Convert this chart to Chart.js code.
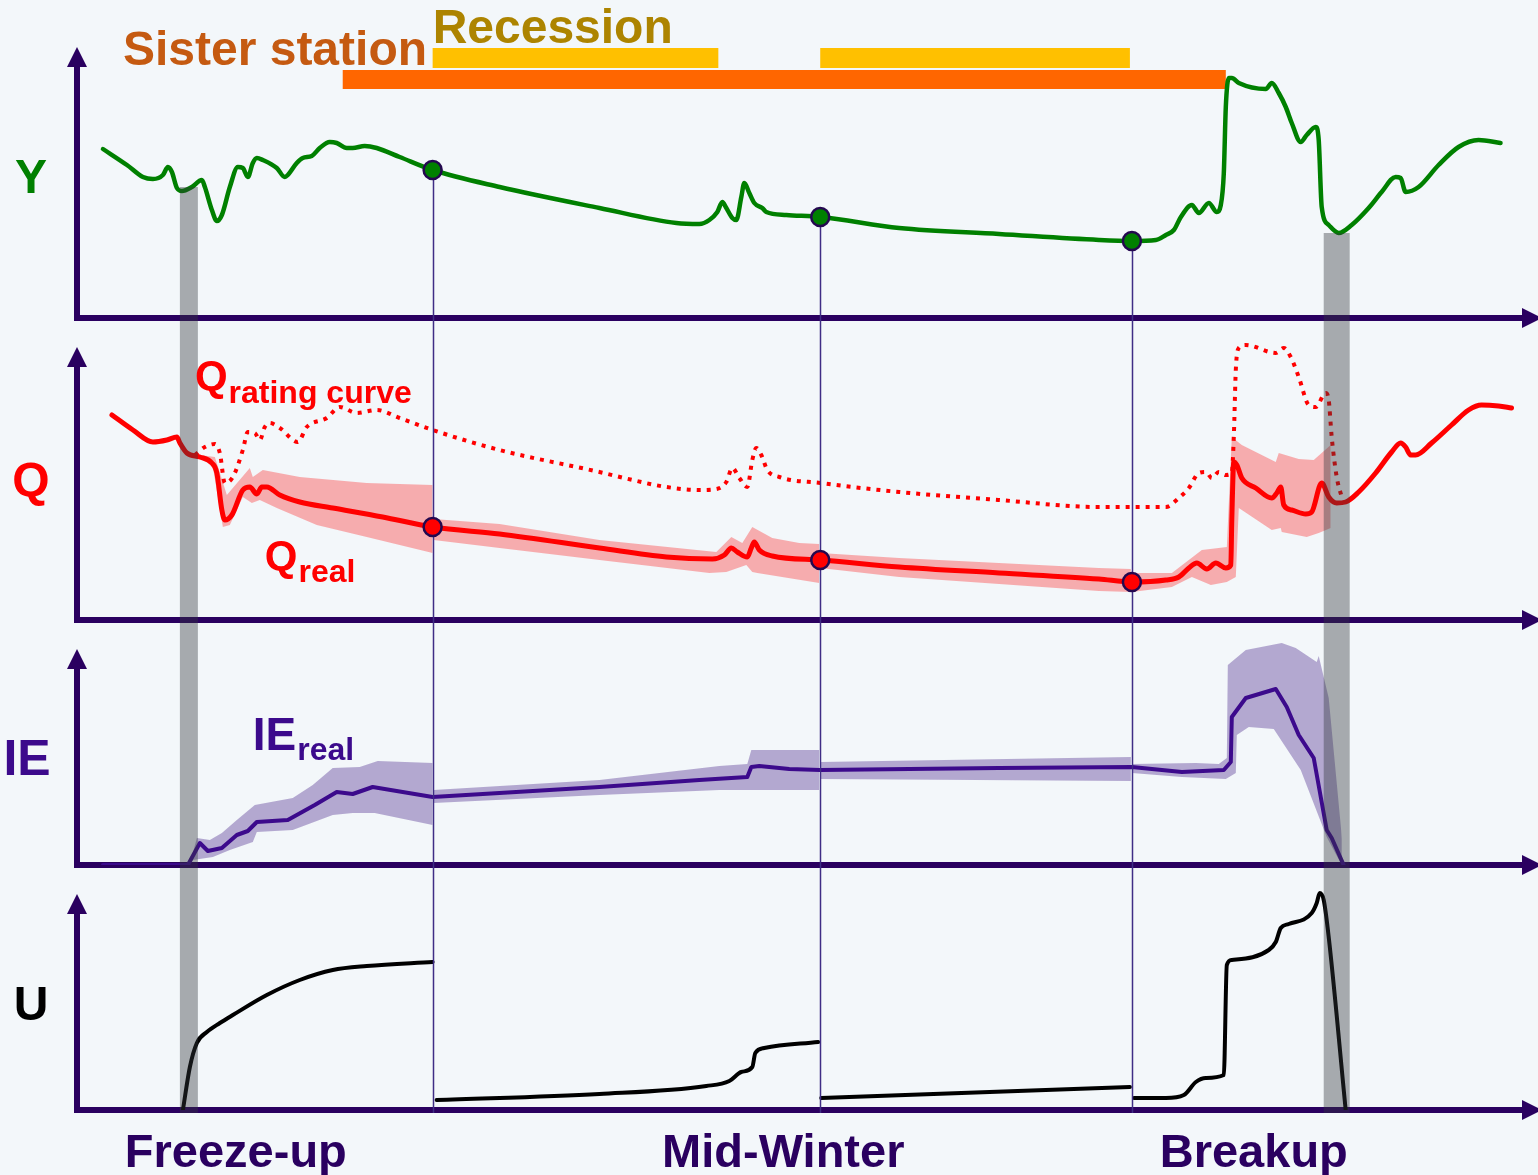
<!DOCTYPE html>
<html>
<head>
<meta charset="utf-8">
<script src="https://cdn.jsdelivr.net/npm/chart.js@4.4.1/dist/chart.umd.min.js"></script>
<style>
  html, body { margin: 0; padding: 0; background: #f3f7fa; }
  canvas { display: block; }
</style>
</head>
<body>
<canvas id="chart" width="1538" height="1175"></canvas>
<script>
// ---------------- data (x = days since start of season) ----------------

// Stage Y (m)
const stageSeries = [
  [2.6,1.69],[5.0,1.53],[6.6,1.41],[7.6,1.39],[8.6,1.43],[9.1,1.51],[9.5,1.46],[10.0,1.30],[10.5,1.27],
  [11.5,1.31],[12.5,1.38],[12.8,1.31],[13.5,1.08],[14.0,0.97],[14.5,1.03],[15.3,1.31],[16.1,1.51],[16.6,1.50],
  [17.1,1.41],[17.6,1.55],[18.0,1.60],[18.6,1.58],[20.0,1.50],[20.8,1.41],[21.1,1.43],[22.0,1.55],[22.6,1.60],
  [23.5,1.62],[24.3,1.70],[25.3,1.76],[26.0,1.75],[27.0,1.70],[27.6,1.70],[28.8,1.72],[30.0,1.70],[32.3,1.61],
  [35.6,1.48],[42.3,1.31],[52.3,1.10],[60.0,0.95],[62.3,0.94],[63.3,0.98],[64.1,1.06],[64.6,1.16],[65.0,1.10],
  [65.6,1.00],[66.0,0.98],[66.5,1.21],[66.8,1.35],[67.3,1.25],[67.8,1.15],[68.6,1.10],[69.0,1.06],[71.0,1.03],
  [74.4,1.01],[82.3,0.90],[92.3,0.84],[102.3,0.78],[105.6,0.77],[108.0,0.78],[109.0,0.83],[109.8,0.88],
  [110.5,1.01],[111.6,1.13],[112.3,1.05],[113.3,1.15],[114.1,1.06],[114.5,1.13],[114.8,1.45],[115.0,2.11],
  [115.3,2.40],[115.6,2.40],[116.3,2.35],[119.0,2.29],[119.6,2.35],[120.3,2.25],[121.0,2.11],[121.6,1.95],
  [122.5,1.76],[123.1,1.83],[124.0,1.91],[124.3,1.78],[124.6,1.11],[125.3,0.93],[126.3,0.85],[127.6,0.93],
  [129.3,1.10],[130.6,1.26],[132.0,1.41],[132.5,1.40],[133.0,1.26],[134.3,1.31],[136.3,1.53],[138.3,1.71],
  [140.3,1.78],[142.5,1.75]
];

// Discharge from the open-water rating curve (m3/s)
const ratingCurveQ = [
  [11.8,82.5],[12.8,86.5],[13.8,88.0],[14.3,83.5],[14.8,68.5],[15.6,71.5],[16.6,85.0],[17.1,94.0],[17.8,93.5],
  [18.3,90.0],[18.8,96.5],[19.3,98.5],[20.3,96.0],[22.1,89.0],[23.0,96.5],[25.0,101.0],[26.3,106.5],[28.0,103.5],
  [30.0,105.0],[32.3,101.0],[35.6,95.0],[42.3,85.0],[52.3,74.0],[55.6,70.0],[59.0,66.5],[62.3,65.0],[64.0,65.5],
  [65.0,69.0],[65.6,76.0],[66.3,71.0],[67.1,66.5],[67.6,80.0],[68.0,86.0],[68.5,82.5],[69.1,75.0],[70.3,71.5],
  [74.4,68.5],[82.3,64.0],[92.3,60.0],[102.3,56.5],[109.0,56.5],[110.3,61.0],[111.3,66.0],[112.3,73.5],
  [113.0,74.0],[113.6,71.0],[114.3,74.0],[115.0,72.5],[115.6,73.5],[115.8,91.5],[116.0,125.0],[116.3,136.0],
  [117.0,137.5],[120.0,133.5],[120.8,136.0],[121.5,131.5],[122.3,121.5],[123.3,107.5],[124.0,106.5],
  [125.0,113.5],[125.3,110.0],[125.6,91.5],[126.1,71.5],[126.6,61.5]
];

// Estimated real discharge (m3/s)
const realQ = [
  [3.5,102.5],[5.6,95.0],[7.6,89.0],[9.0,90.0],[10.0,91.5],[10.3,88.5],[11.0,83.5],[12.3,81.5],[13.5,78.5],
  [14.0,73.5],[14.5,55.0],[14.8,50.0],[15.5,52.5],[16.6,65.0],[17.3,66.5],[18.0,63.0],[18.5,66.5],[19.0,66.5],
  [20.3,62.5],[22.3,59.0],[25.6,56.0],[30.6,51.5],[35.6,46.5],[42.3,43.0],[52.3,36.0],[59.0,31.5],[63.6,30.5],
  [64.8,32.5],[65.5,36.0],[66.1,34.0],[67.1,31.5],[67.5,36.0],[67.8,39.0],[68.3,35.0],[69.6,32.0],[74.4,30.0],
  [82.3,26.5],[92.3,23.5],[102.3,20.5],[105.6,19.0],[109.0,20.0],[110.3,21.5],[111.3,26.0],[112.1,28.5],
  [113.1,25.5],[114.0,28.5],[115.0,26.0],[115.5,27.5],[115.6,50.0],[115.8,79.0],[116.1,77.5],[116.6,71.0],
  [118.0,66.0],[119.6,61.0],[120.1,63.5],[120.5,66.5],[120.8,57.5],[121.6,55.0],[123.0,53.0],[123.6,54.0],
  [124.6,68.5],[125.3,61.5],[126.1,58.5],[127.0,59.0],[128.3,64.0],[130.0,73.5],[131.6,84.0],[132.5,88.5],
  [133.0,86.5],[133.5,82.5],[134.0,82.5],[135.6,88.5],[137.6,97.5],[139.3,105.0],[140.6,107.5],[142.3,107.0],
  [143.6,106.0]
];

// Uncertainty band of the real discharge (null = break between estimation periods)
const realQHigh = [
  [12.3,82.5],[13.8,81.5],[15.0,62.5],[17.3,76.0],[17.6,71.5],[18.6,75.0],[22.3,71.5],[29.0,68.5],[35.6,67.5],
  [35.65,null],
  [35.7,50.5],[42.3,48.0],[52.3,40.0],[64.0,34.0],[65.5,41.5],[66.6,38.5],[67.6,46.5],[69.6,41.0],[72.3,38.5],[74.3,38.0],
  [74.35,null],
  [74.4,33.5],[82.3,31.0],[92.3,28.5],[102.3,26.0],[105.5,25.5],
  [105.55,null],
  [105.6,23.5],[109.6,23.5],[112.6,35.0],[115.1,36.5],[115.6,91.5],[116.6,87.5],[120.0,79.0],[120.3,83.5],
  [122.3,80.5],[123.8,80.0],[125.5,87.5]
];
const realQLow = [
  [12.3,81.5],[13.6,76.5],[14.6,46.5],[15.3,47.5],[16.6,61.5],[17.5,58.5],[18.3,60.0],[20.0,56.0],[24.0,47.5],
  [29.0,41.5],[35.6,33.5],
  [35.65,null],
  [35.7,40.0],[42.3,36.0],[52.3,30.0],[63.3,23.5],[65.0,24.0],[67.0,27.5],[67.6,24.0],[68.1,23.5],[74.3,18.5],
  [74.35,null],
  [74.4,26.0],[82.3,21.5],[92.3,18.0],[102.3,14.5],[105.5,14.0],
  [105.55,null],
  [105.6,14.0],[109.6,16.5],[111.6,21.5],[113.5,17.5],[115.1,19.0],[116.0,21.5],[116.3,56.0],[119.6,45.0],
  [120.5,46.0],[120.6,44.0],[123.1,41.5],[124.3,43.5],[125.5,46.0]
];

// Ice effect IE (m3/s)
const iceEffect = [
  [2.6,0],[11.1,0],[12.3,11.0],[13.1,7.0],[14.5,8.5],[16.0,15.0],[17.1,17.0],[18.0,21.5],[21.1,22.5],[23.8,30.0],
  [26.0,36.5],[27.6,35.5],[29.6,39.0],[35.6,34.0],[42.3,36.0],[52.3,39.0],[62.3,42.5],[67.1,44.0],[67.5,49.0],
  [68.3,49.5],[71.3,48.0],[74.4,47.5],[92.3,48.5],[105.6,49.0],[110.6,46.5],[114.8,47.5],[115.5,51.5],
  [115.6,74.0],[117.0,83.5],[120.0,88.0],[121.1,79.0],[122.3,65.0],[123.8,53.5],[125.1,17.5],[125.6,13.5],[126.8,0]
];
const iceEffectHigh = [
  [11.3,0.5],[12.0,13.5],[13.3,12.5],[14.5,16.0],[16.0,22.5],[17.8,30.0],[21.6,33.5],[23.6,40.0],[25.6,48.5],
  [28.3,49.0],[30.1,52.0],[35.6,51.0],
  [35.65,null],
  [35.7,37.5],[52.3,42.5],[64.3,49.5],[67.1,50.5],[67.5,57.5],[74.3,57.5],
  [74.35,null],
  [74.4,51.5],[105.5,54.0],
  [105.55,null],
  [105.6,50.5],[112.0,51.0],[114.3,50.5],[115.1,53.5],[115.2,100.0],[117.0,107.5],[120.6,111.0],[122.0,108.5],
  [124.1,101.5],[124.3,104.5],[125.3,83.5],[126.8,4.0],[126.9,0]
];
const iceEffectLow = [
  [11.3,0],[11.6,2.5],[13.6,4.0],[15.3,7.5],[17.6,11.5],[18.0,16.5],[21.6,17.5],[25.6,25.0],[27.6,26.0],
  [29.8,26.0],[35.6,20.0],
  [35.65,null],
  [35.7,31.0],[52.3,35.0],[64.3,37.5],[74.3,37.5],
  [74.35,null],
  [74.4,43.0],[105.5,42.0],
  [105.55,null],
  [105.6,46.0],[110.6,44.0],[115.0,43.0],[116.0,46.0],[116.1,65.0],[117.3,69.0],[119.8,68.0],[122.5,47.5],
  [125.1,14.0],[126.6,0]
];

// Uncertainty U (%) per estimation period
const uncertainty = [
  [10.6,0],[11.3,21.5],[12.0,33.5],[13.0,39.0],[14.3,43.5],[15.6,47.5],[19.0,57.5],[22.3,65.0],[25.6,70.0],
  [29.0,72.0],[35.6,74.0],
  [35.8,null],
  [36.0,5.0],[52.3,8.0],[63.0,12.0],[65.3,14.5],[66.5,19.0],[67.6,21.5],[67.9,28.5],[68.8,31.0],[74.2,34.0],
  [74.35,null],
  [74.5,6.0],[105.4,11.5],
  [105.5,null],
  [105.8,6.0],[109.0,6.0],[110.8,7.5],[112.0,14.0],[113.0,16.0],[114.8,17.5],[115.1,72.5],[115.6,75.0],
  [119.3,80.0],[120.0,84.0],[120.5,91.0],[121.3,93.0],[123.6,98.5],[124.1,103.5],[124.4,108.5],[124.8,105.0],
  [125.3,86.5],[127.0,0]
];

// Field measurement (check) dates and the values observed there
const checkDays  = [35.6, 74.4, 105.6];
const checkStage = [1.48, 1.01, 0.77];
const checkFlow  = [46.5, 30.0, 19.0];

// Periods: sister station record, recession periods, freeze-up / breakup transitions
const sisterStationPeriod = [26.6, 115.0];
const recessionPeriods = [[35.6, 64.2], [74.4, 105.4]];
const transitionPeriods = [[10.3, 12.1], [124.8, 127.4]];
const transitionStage = [1.31, 0.85];

// Season names along the time axis
const seasonNames = ['Freeze-up', 'Mid-Winter', 'Breakup'];
const seasonDays = [15.9, 70.7, 117.8];

// ---------------- styling ----------------
const FONT = '"Liberation Sans", Arial, Helvetica, sans-serif';
const BG = '#f3f7fa';
const AXIS = '#2a0060';
const PURPLE = '#3c0a8c';
const SISTER_LEVEL = 2.385;      // stage units, height of the sister-station bar
const RECESSION_LEVEL = 2.60;    // stage units, height of the recession bars

const xy = pairs => pairs.map(([x, y]) => ({x, y}));
const panelIds = ['yY', 'yQ', 'yIE', 'yU'];

function curve(data, axis, color, width, extra) {
  return Object.assign({
    data: xy(data), yAxisID: axis, borderColor: color, borderWidth: width,
    pointRadius: 0, fill: false, cubicInterpolationMode: 'monotone',
    borderJoinStyle: 'round', borderCapStyle: 'round', spanGaps: false, order: 2
  }, extra || {});
}
function band(high, low, axis, color) {
  return [
    {data: xy(high), yAxisID: axis, borderColor: 'transparent', borderWidth: 0, pointRadius: 0,
     tension: 0, spanGaps: false, fill: '+1', backgroundColor: color, order: 4},
    {data: xy(low), yAxisID: axis, borderColor: 'transparent', borderWidth: 0, pointRadius: 0,
     tension: 0, spanGaps: false, fill: false, order: 4}
  ];
}
function markers(values, axis, color) {
  return {
    data: checkDays.map((d, i) => ({x: d, y: values[i]})), yAxisID: axis, showLine: false,
    pointRadius: 9, pointBackgroundColor: color, pointBorderColor: '#24084f', pointBorderWidth: 2.5, order: 0
  };
}

const recessionData = [];
recessionPeriods.forEach(([a, b], i) => {
  if (i > 0) recessionData.push([(recessionData[recessionData.length - 1][0] + a) / 2, null]);
  recessionData.push([a, RECESSION_LEVEL], [b, RECESSION_LEVEL]);
});

const datasets = [
  curve(sisterStationPeriod.map(d => [d, SISTER_LEVEL]), 'yY', '#ff6600', 19,
        {borderCapStyle: 'butt', cubicInterpolationMode: 'default', tension: 0, order: 5}),
  curve(recessionData, 'yY', '#ffc000', 20,
        {borderCapStyle: 'butt', cubicInterpolationMode: 'default', tension: 0, order: 5}),
  ...band(realQHigh, realQLow, 'yQ', 'rgba(255,0,0,0.30)'),
  ...band(iceEffectHigh, iceEffectLow, 'yIE', 'rgba(90,60,150,0.42)'),
  curve(stageSeries, 'yY', '#008000', 4.5),
  curve(ratingCurveQ, 'yQ', '#ff0000', 4, {borderDash: [4, 6], borderCapStyle: 'butt'}),
  curve(realQ, 'yQ', '#ff0000', 5),
  curve(iceEffect, 'yIE', PURPLE, 4, {cubicInterpolationMode: 'default', tension: 0}),
  curve(uncertainty, 'yU', '#000000', 4),
  markers(checkStage, 'yY', '#008000'),
  markers(checkFlow, 'yQ', '#ff0000')
];

// ---------------- drawing helpers ----------------
function drawText(ctx, str, x, y, size, color, align) {
  ctx.font = 'bold ' + size + 'px ' + FONT;
  ctx.fillStyle = color;
  ctx.textAlign = align || 'left';
  ctx.textBaseline = 'alphabetic';
  ctx.fillText(str, x, y);
  return ctx.measureText(str).width;
}
function drawSubscripted(ctx, main, sub, x, y, size, subSize, drop, color) {
  const w = drawText(ctx, main, x, y, size, color);
  drawText(ctx, sub, x + w + 1, y + drop, subSize, color);
}

let checkLinesDrawn = false;

const panelDecor = {
  id: 'panelDecor',
  beforeDraw(chart) {
    const ctx = chart.ctx;
    ctx.save();
    ctx.fillStyle = BG;
    ctx.fillRect(0, 0, chart.width, chart.height);
    ctx.restore();
  },
  beforeDatasetsDraw(chart) {
    checkLinesDrawn = false;
    const {ctx, chartArea, scales} = chart;
    const x0 = chartArea.left;
    const xEnd = chart.width;
    ctx.save();
    ctx.strokeStyle = AXIS;
    ctx.fillStyle = AXIS;
    ctx.lineWidth = 6;
    ctx.lineCap = 'butt';
    panelIds.forEach((id, i) => {
      const s = scales[id];
      const tip = s.top + (i === 0 ? 2 : 29);
      // vertical axis with arrowhead
      ctx.beginPath();
      ctx.moveTo(x0, s.bottom + 3);
      ctx.lineTo(x0, tip + 16);
      ctx.stroke();
      ctx.beginPath();
      ctx.moveTo(x0, tip);
      ctx.lineTo(x0 - 10, tip + 20);
      ctx.lineTo(x0 + 10, tip + 20);
      ctx.closePath();
      ctx.fill();
      // time axis with arrowhead
      ctx.beginPath();
      ctx.moveTo(x0 - 3, s.bottom);
      ctx.lineTo(xEnd - 12, s.bottom);
      ctx.stroke();
      ctx.beginPath();
      ctx.moveTo(xEnd + 4, s.bottom);
      ctx.lineTo(xEnd - 16, s.bottom - 10);
      ctx.lineTo(xEnd - 16, s.bottom + 10);
      ctx.closePath();
      ctx.fill();
    });
    ctx.restore();
  },
  beforeDatasetDraw(chart, args) {
    if (checkLinesDrawn || chart.data.datasets[args.index].order !== 0) return;
    checkLinesDrawn = true;
    const {ctx, scales} = chart;
    ctx.save();
    ctx.strokeStyle = '#3f2d85';
    ctx.lineWidth = 1.5;
    checkDays.forEach((d, i) => {
      const x = Math.round(scales.x.getPixelForValue(d)) + 0.5;
      ctx.beginPath();
      ctx.moveTo(x, scales.yY.getPixelForValue(checkStage[i]));
      ctx.lineTo(x, scales.yU.bottom + 3);
      ctx.stroke();
    });
    ctx.restore();
  },
  afterDatasetsDraw(chart) {
    const {ctx, scales, chartArea} = chart;
    const X = v => scales.x.getPixelForValue(v);
    ctx.save();
    // freeze-up / breakup transition periods
    ctx.fillStyle = 'rgba(50,55,60,0.40)';
    transitionPeriods.forEach(([a, b], i) => {
      const top = scales.yY.getPixelForValue(transitionStage[i]);
      ctx.fillRect(X(a), top, X(b) - X(a), scales.yU.bottom + 3 - top);
    });

    // period labels
    drawText(ctx, 'Sister station', X(4.6), scales.yY.getPixelForValue(2.53), 48, '#c55a11');
    drawText(ctx, 'Recession', X(recessionPeriods[0][0]), scales.yY.getPixelForValue(2.75), 48, '#ad8400');

    // panel names
    const nameX = chartArea.left - 46;
    drawText(ctx, 'Y', nameX, scales.yY.getPixelForValue(1.25), 48, '#008000', 'center');
    drawText(ctx, 'Q', nameX, scales.yQ.getPixelForValue(62), 48, '#ff0000', 'center');
    drawText(ctx, 'IE', nameX - 4, scales.yIE.getPixelForValue(45), 50, PURPLE, 'center');
    drawText(ctx, 'U', nameX, scales.yU.getPixelForValue(45), 48, '#000000', 'center');

    // series names
    drawSubscripted(ctx, 'Q', 'rating curve', X(11.8), scales.yQ.getPixelForValue(115), 42, 32, 13, '#ff0000');
    drawSubscripted(ctx, 'Q', 'real', X(18.8), scales.yQ.getPixelForValue(25), 42, 32, 12, '#ff0000');
    drawSubscripted(ctx, 'IE', 'real', X(17.6), scales.yIE.getPixelForValue(57.5), 46, 32, 10, PURPLE);

    // season names under the time axis
    seasonNames.forEach((name, i) => {
      drawText(ctx, name, X(seasonDays[i]), scales.yU.bottom + 57, 47, AXIS, 'center');
    });
    ctx.restore();
  }
};

const yPanel = (weight, order, max) => ({
  type: 'linear', position: 'left', stack: 'panels', stackWeight: weight, weight: order,
  min: 0, max: max, display: false
});

new Chart(document.getElementById('chart'), {
  type: 'line',
  data: {datasets},
  options: {
    responsive: false,
    animation: false,
    events: [],
    layout: {padding: {left: 77, right: 10, top: 45, bottom: 65}},
    plugins: {legend: {display: false}, tooltip: {enabled: false}},
    scales: {
      x: {type: 'linear', min: 0, max: 145.1, display: false},
      yY: yPanel(273, 4, 2.73),
      yQ: yPanel(302, 3, 151),
      yIE: yPanel(245, 2, 122.5),
      yU: yPanel(245, 1, 122.5)
    }
  },
  plugins: [panelDecor]
});
</script>
</body>
</html>
